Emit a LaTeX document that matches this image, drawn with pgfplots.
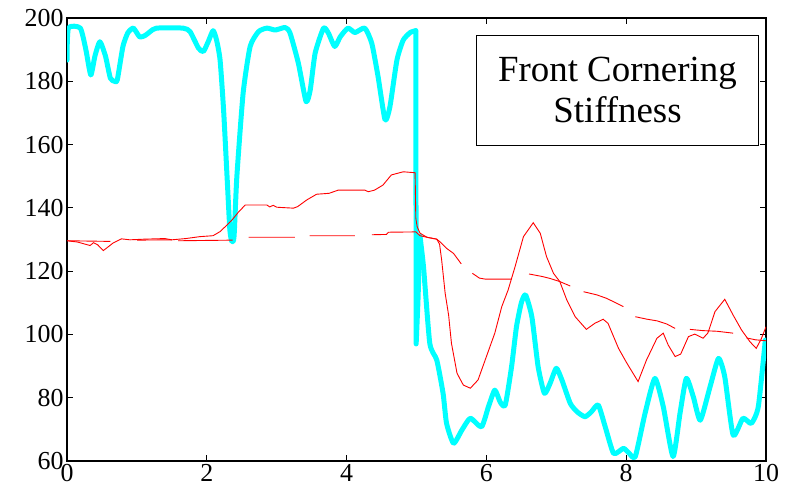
\documentclass[border=0pt]{standalone}
\usepackage{fontspec}
\setmainfont{Liberation Serif}
\usepackage{pgfplots}
\pgfplotsset{compat=1.18}
\definecolor{stiffcyan}{RGB}{0,255,255}
\definecolor{stiffred}{RGB}{255,0,0}

\begin{document}
\begin{tikzpicture}
\begin{axis}[
  name=ax,
  scale only axis,
  width=699bp, height=443bp,
  xmin=0, xmax=10, ymin=60, ymax=200,
  xtick={0,2,...,10}, ytick={60,80,...,200},
  tick align=inside,
  major tick length=6bp,
  tick style={black, line width=0.8bp},
  axis line style={black, line width=1.3bp},
  /pgf/number format/assume math mode=true,
  ticklabel style={font=\fontsize{26}{30}\selectfont},
  unbounded coords=jump,
  cyanline/.style={stiffcyan, line width=5bp, line join=round, line cap=round},
]

% estimated stiffness (thick trace), before the switch at t = 5
\addplot[cyanline, smooth, tension=0.35] coordinates {
(0,186.7)(0.02,196.8)(0.19,196.8)(0.27,190)(0.34,182)(0.40,188)(0.47,192.5)
(0.55,188)(0.62,181)(0.68,180)(0.72,180.5)(0.80,191)(0.87,195.3)(0.95,196.8)
(1.04,194)(1.12,194.5)(1.19,195.7)(1.28,196.8)(1.66,196.8)(1.76,195.7)
(1.88,190.5)(1.95,189.4)(2.02,192.5)(2.09,196)(2.14,193)(2.19,186.7)(2.24,171)
(2.29,149.8)(2.33,133)(2.36,129.3)(2.39,131)(2.43,149.9)(2.52,176.3)(2.62,191)
(2.74,195.7)(2.86,196.8)(2.98,196.2)(3.12,197)(3.19,195.3)(3.31,185.7)
(3.42,173.6)(3.48,177.3)(3.55,188.9)(3.67,196.8)(3.74,195.2)(3.83,191)
(3.91,194.1)(4.02,196.8)(4.12,195.4)(4.26,196.8)(4.36,192)(4.45,181.5)
(4.55,167.8)(4.62,172)(4.72,186.7)(4.81,193)(4.91,195.4)(4.99,196)
};
% the switch itself
\addplot[cyanline] coordinates {
(4.99,196)(4.995,97)(5.02,110)(5.05,131)
};
% after the switch
\addplot[cyanline, smooth, tension=0.35] coordinates {
(5.05,131)(5.10,121.4)(5.19,97.2)(5.29,91.9)(5.38,81.4)(5.43,71.9)
(5.53,65.6)(5.65,69.8)(5.77,73.5)(5.93,70.8)(6.03,77.2)(6.12,82.4)(6.20,78.5)
(6.27,77.7)(6.36,89.8)(6.43,102.4)(6.50,110)(6.56,112.5)(6.65,105.6)(6.74,89.8)
(6.83,81.4)(6.91,84.5)(7.00,89.3)(7.08,85.6)(7.20,78.2)(7.30,75.5)(7.41,74)
(7.50,75.5)(7.60,77.7)(7.70,70.8)(7.82,62.4)(7.96,64)(8.04,62.5)(8.13,61.4)
(8.27,75.1)(8.41,86.1)(8.53,77.2)(8.67,61.4)(8.77,75.1)(8.86,86.1)(8.96,80.3)
(9.06,72.9)(9.20,83.5)(9.32,92.4)(9.41,86.6)(9.53,68.2)(9.67,73.5)(9.79,71.9)
(9.89,77.2)(9.99,98.2)
};

% reference stiffness (solid)
\addplot[stiffred, line width=0.9bp] coordinates {
(0,129.6)(0.15,129.2)(0.33,128.1)(0.38,129.0)(0.44,128.3)(0.52,126.5)(0.66,128.9)
(0.78,130.2)(0.9,129.9)(1.1,130.1)(1.4,130.3)(1.5,129.9)(1.7,130.3)(1.90,130.9)
(2.09,131.2)(2.19,132.5)(2.29,134.6)(2.37,136.4)(2.45,138.6)(2.55,140.9)
(2.86,140.9)(2.9,140.3)(2.95,140.8)(3.0,140.2)(3.24,139.9)(3.30,140.4)
(3.43,142.5)(3.57,144.3)(3.75,144.6)(3.88,145.6)(4.26,145.6)(4.31,145.1)
(4.40,145.6)(4.52,147.2)(4.64,150.4)(4.81,151.4)(4.98,151.1)(4.99,136.7)
(5.01,134.0)(5.05,132.0)(5.15,130.7)(5.29,130.1)(5.33,128.5)(5.36,123.5)
(5.41,113)(5.46,106)(5.50,97.2)(5.58,87.7)(5.67,84.0)(5.77,83.0)(5.88,85.6)
(6.00,93.0)(6.12,100.4)(6.22,108.8)(6.31,114.0)(6.41,121.4)(6.53,130.9)
(6.67,135.3)(6.77,132.0)(6.86,124.6)(6.96,119.3)(7.05,116.7)(7.15,110.9)
(7.27,105.6)(7.43,101.6)(7.55,103.5)(7.67,104.8)(7.74,103.5)(7.89,95.6)
(8.01,90.9)(8.17,85.1)(8.29,91.9)(8.44,98.8)(8.53,100.4)(8.60,96.7)(8.70,93.0)
(8.78,93.8)(8.89,99.3)(8.98,100.1)(9.10,98.8)(9.17,100.5)(9.27,107.2)
(9.41,111.1)(9.53,106.1)(9.65,101.4)(9.77,97.7)(9.86,95.6)(9.93,98.5)(10.0,102.4)
};

% filtered stiffness (broken where the filter is inactive)
\addplot[stiffred, line width=0.9bp] coordinates {
(0,129.6)(0.62,129.4)(0.63,nan)
(1.0,129.8)(1.5,129.9)(1.55,nan)
(1.59,129.6)(2.37,129.8)(2.45,nan)
(2.6,130.7)(3.26,130.7)(3.3,nan)
(3.47,131.2)(4.12,131.2)(4.2,nan)
(4.36,131.5)(4.57,131.6)(4.60,132.3)(4.99,132.4)(5.05,131.2)(5.15,130.7)
(5.29,130.1)(5.35,129.0)(5.43,127.2)(5.53,125.6)(5.64,122.3)(5.7,nan)
(5.80,119.3)(5.90,117.8)(5.98,117.5)(6.36,117.5)(6.4,nan)
(6.61,119.1)(6.80,118.3)(6.91,117.7)(7.05,116.7)(7.20,115.3)(7.25,nan)
(7.39,113.5)(7.58,112.5)(7.72,111.4)(7.96,108.8)(8.0,nan)
(8.13,105.6)(8.30,104.8)(8.44,104.3)(8.58,103.3)(8.70,101.9)(8.8,nan)
(8.91,101.6)(9.10,101.2)(9.30,101.0)(9.53,100.4)(9.6,nan)
(9.72,98.9)(9.85,98.3)(10.0,98.0)
};

\node[draw=black, line width=1.2bp, fill=white, align=center,
      minimum width=282bp, minimum height=110bp, inner sep=0pt,
      font=\fontsize{37}{41}\selectfont]
  at (axis cs:7.875,177.2) {Front Cornering\\Stiffness};

\coordinate (bl) at (rel axis cs:0,0);
\coordinate (tr) at (rel axis cs:1,1);
\end{axis}
\path (bl) ++(-67bp,-35bp) coordinate (pa);
\path (tr) ++(19bp,18bp) coordinate (pb);
\path (pa) rectangle (pb);
\end{tikzpicture}
\end{document}
